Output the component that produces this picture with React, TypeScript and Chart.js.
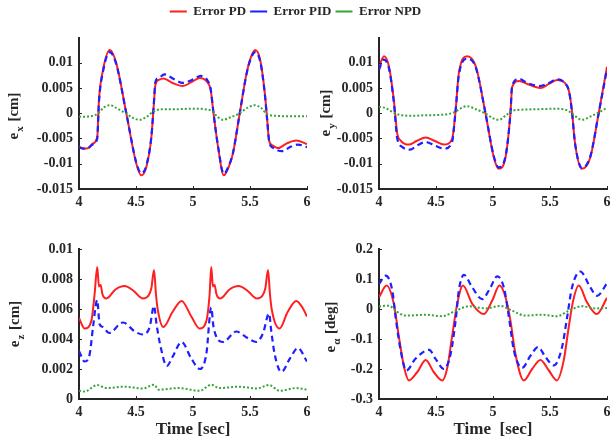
import React, { useEffect, useRef } from 'react';
import { Chart, registerables } from 'chart.js';
Chart.register(...registerables);

const FONT = "'Liberation Serif', 'Times New Roman', serif";
const INK = '#262626';
const RED = '#ff1f1f';
const BLUE = '#1f1fff';
const GREEN = '#37a437';

const seriesLabels = ['Error PD', 'Error PID', 'Error NPD'];

// ---- e_x ----
const exPdT = [4.00,4.04,4.08,4.12,4.16,4.175,4.21,4.27,4.327,4.415,4.503,4.547,4.59,4.635,4.655,4.67,4.70,4.74,4.82,4.91,4.99,5.06,5.12,5.155,5.18,5.22,5.27,5.31,5.35,5.41,5.47,5.51,5.546,5.59,5.63,5.65,5.667,5.70,5.746,5.82,5.906,6.00];
const exPdV = [-0.0066,-0.0070,-0.0069,-0.0060,-0.0047,0.0026,0.0085,0.0125,0.0099,0,-0.0100,-0.0123,-0.0107,-0.0047,0.0013,0.0056,0.0066,0.0069,0.0060,0.0054,0.0062,0.0070,0.0063,0.0046,0,-0.0067,-0.0123,-0.0108,-0.0080,0,0.0079,0.0112,0.0125,0.0105,0.0040,-0.0010,-0.0054,-0.0064,-0.0069,-0.0060,-0.0054,-0.0061];
const exPidT = [4.00,4.04,4.08,4.12,4.16,4.175,4.21,4.27,4.327,4.415,4.503,4.547,4.59,4.635,4.655,4.67,4.70,4.75,4.83,4.91,4.99,5.07,5.13,5.155,5.18,5.22,5.27,5.31,5.35,5.41,5.47,5.51,5.546,5.59,5.63,5.65,5.67,5.70,5.78,5.86,5.92,6.00];
const exPidV = [-0.0068,-0.0070,-0.0069,-0.0062,-0.0050,0.0022,0.0082,0.0121,0.0097,0,-0.0098,-0.0119,-0.0104,-0.0046,0.0014,0.0062,0.0070,0.0077,0.0068,0.0060,0.0066,0.0074,0.0064,0.0048,0,-0.0066,-0.0120,-0.0106,-0.0079,0,0.0078,0.0110,0.0121,0.0102,0.0038,-0.0012,-0.0058,-0.0068,-0.0075,-0.0066,-0.0062,-0.0067];
const exNpdT = [4.00,4.10,4.17,4.22,4.27,4.33,4.41,4.48,4.53,4.60,4.65,4.72,4.85,5.00,5.10,5.17,5.21,5.26,5.33,5.41,5.48,5.54,5.60,5.65,5.72,5.85,6.00];
const exNpdV = [-0.0007,-0.0006,0,0.0012,0.0016,0.0010,0,-0.0010,-0.0013,-0.0006,0.0003,0.0008,0.0008,0.0009,0.0008,0.0004,-0.0006,-0.0013,-0.0008,0,0.0011,0.0016,0.0010,-0.0002,-0.0005,-0.0006,-0.0006];

// ---- e_y ----
const eyPdT = [4.00,4.044,4.088,4.13,4.16,4.19,4.26,4.33,4.41,4.49,4.57,4.64,4.67,4.70,4.774,4.85,4.934,5.007,5.05,5.11,5.153,5.168,5.23,5.30,5.416,5.49,5.562,5.63,5.665,5.69,5.72,5.78,5.854,5.927,6.00];
const eyPdV = [0.0092,0.0113,0.0092,0.0026,-0.0040,-0.0054,-0.0062,-0.0055,-0.0048,-0.0055,-0.0062,-0.0052,0,0.0079,0.0113,0.0092,0,-0.0087,-0.0110,-0.0087,0,0.0052,0.0064,0.0058,0.0050,0.0058,0.0066,0.0060,0.0045,0.0010,-0.0060,-0.0110,-0.0087,0,0.0092];
const eyPidT = [4.00,4.04,4.088,4.13,4.16,4.20,4.27,4.34,4.41,4.49,4.57,4.64,4.67,4.70,4.774,4.85,4.934,5.007,5.05,5.11,5.153,5.168,5.23,5.30,5.416,5.49,5.562,5.63,5.665,5.69,5.72,5.78,5.854,5.927,6.00];
const eyPidV = [0.0086,0.0106,0.0088,0.0022,-0.0050,-0.0066,-0.0072,-0.0063,-0.0057,-0.0064,-0.0070,-0.0058,0,0.0075,0.0108,0.0090,0,-0.0085,-0.0107,-0.0085,0,0.0055,0.0068,0.0060,0.0054,0.0060,0.0067,0.0060,0.0045,0.0008,-0.0060,-0.0108,-0.0085,0,0.0088];
const eyNpdT = [4.00,4.06,4.13,4.20,4.30,4.41,4.55,4.65,4.72,4.77,4.85,4.93,5.00,5.05,5.12,5.17,5.25,5.40,5.55,5.65,5.70,5.78,5.85,5.93,6.00];
const eyNpdV = [0.0013,0.0010,0.0001,-0.0004,-0.0005,-0.0004,-0.0003,0.0001,0.0010,0.0014,0.0008,0,-0.0010,-0.0013,-0.0003,0.0005,0.0007,0.0008,0.0009,0.0006,-0.0002,-0.0013,-0.0007,0.0002,0.0011];

// ---- e_z ----
const ezPdT = [4.00,4.05,4.108,4.137,4.16,4.175,4.19,4.205,4.24,4.32,4.40,4.48,4.56,4.61,4.635,4.658,4.675,4.69,4.74,4.82,4.90,4.985,5.058,5.117,5.146,5.16,5.175,5.19,5.205,5.24,5.32,5.40,5.48,5.56,5.61,5.635,5.658,5.675,5.69,5.76,5.83,5.906,5.96,6.00];
const ezPdV = [0.0054,0.0047,0.0052,0.0070,0.0088,0.0075,0.0076,0.0070,0.0067,0.0073,0.00753,0.0072,0.0067,0.0069,0.0074,0.0086,0.0070,0.0060,0.0048,0.0058,0.00654,0.0055,0.0047,0.0052,0.0070,0.0088,0.0075,0.0076,0.0070,0.0067,0.0073,0.00753,0.0072,0.0067,0.0069,0.0074,0.0086,0.0070,0.0060,0.0047,0.0058,0.00654,0.0061,0.0055];
const ezPidT = [4.00,4.05,4.094,4.123,4.16,4.18,4.21,4.263,4.386,4.49,4.56,4.62,4.658,4.68,4.71,4.77,4.82,4.90,4.985,5.06,5.117,5.16,5.18,5.263,5.38,5.47,5.556,5.615,5.667,5.687,5.716,5.775,5.85,5.92,6.00];
const ezPidV = [0.0032,0.0025,0.0030,0.0048,0.0066,0.0050,0.0048,0.0044,0.0051,0.0045,0.0043,0.0048,0.0062,0.0050,0.0037,0.0022,0.0028,0.0038,0.0027,0.0020,0.0030,0.0061,0.0048,0.0038,0.0045,0.0041,0.0038,0.0044,0.0057,0.0045,0.0030,0.0018,0.0027,0.0034,0.0025];
const ezNpdT = [4.00,4.05,4.16,4.24,4.40,4.56,4.658,4.70,4.87,5.06,5.16,5.23,5.40,5.56,5.667,5.76,5.906,6.00];
const ezNpdV = [0.00055,0.0005,0.00093,0.00073,0.00082,0.0007,0.00095,0.00062,0.00073,0.00055,0.00095,0.00073,0.00082,0.0007,0.00093,0.00055,0.00073,0.00062];

// ---- e_alpha ----
const eaPdT = [4.00,4.067,4.13,4.175,4.22,4.263,4.336,4.41,4.48,4.555,4.60,4.64,4.686,4.736,4.818,4.92,4.993,5.057,5.11,5.153,5.197,5.27,5.343,5.416,5.49,5.56,5.62,5.664,5.70,5.752,5.825,5.91,6.00];
const eaPdV = [0.039,0.078,0.017,-0.094,-0.194,-0.238,-0.21,-0.17,-0.21,-0.238,-0.194,-0.094,0.017,0.078,0.017,-0.017,0.028,0.078,0.039,-0.039,-0.15,-0.238,-0.2,-0.17,-0.205,-0.238,-0.172,-0.061,0.022,0.078,0.022,-0.017,0.037];
const eaPidT = [4.00,4.058,4.117,4.146,4.19,4.24,4.32,4.44,4.496,4.57,4.628,4.672,4.70,4.745,4.818,4.905,4.978,5.036,5.095,5.14,5.183,5.256,5.33,5.396,5.46,5.533,5.606,5.65,5.693,5.766,5.854,5.912,6.00];
const eaPidV = [0.083,0.111,0.061,-0.028,-0.138,-0.205,-0.166,-0.136,-0.166,-0.2,-0.15,-0.039,0.061,0.114,0.072,0.033,0.072,0.109,0.072,-0.028,-0.138,-0.196,-0.155,-0.127,-0.16,-0.188,-0.127,-0.028,0.072,0.125,0.072,0.044,0.085];
const eaNpdT = [4.00,4.088,4.146,4.234,4.41,4.555,4.672,4.788,4.934,5.066,5.168,5.285,5.43,5.562,5.664,5.78,5.898,6.00];
const eaNpdV = [0.009,0.011,-0.006,-0.022,-0.019,-0.024,-0.006,0.009,0.002,0.010,-0.006,-0.022,-0.019,-0.024,-0.006,0.009,0.002,0.003];

const pts = (t: number[], v: number[]) => t.map((x, i) => ({ x, y: v[i] }));

const styles = [
  { borderColor: RED, borderWidth: 2, borderDash: [] as number[], order: 2 },
  { borderColor: BLUE, borderWidth: 2.2, borderDash: [6, 4], order: 1 },
  { borderColor: GREEN, borderWidth: 2, borderDash: [2, 2], order: 0 },
];

type Panel = {
  key: string;
  box: [number, number, number, number];
  area: [number, number, number, number];
  yMin: number; yMax: number; yStep: number;
  main: string; sub: string; unit: string;
  titlePos: [number, number];
  xTitle?: string;
  series: [number[], number[]][];
};

const panels: Panel[] = [
  { key: 'ex', box: [0, 23, 311, 197], area: [79, 38, 307, 189], yMin: -0.015, yMax: 0.0149, yStep: 0.005,
    main: 'e', sub: 'x', unit: '[cm]', titlePos: [18, 93],
    series: [[exPdT, exPdV], [exPidT, exPidV], [exNpdT, exNpdV]] },
  { key: 'ey', box: [311, 23, 300, 197], area: [379, 38, 607, 189], yMin: -0.015, yMax: 0.0149, yStep: 0.005,
    main: 'e', sub: 'y', unit: '[cm]', titlePos: [19, 90],
    series: [[eyPdT, eyPdV], [eyPidT, eyPidV], [eyNpdT, eyNpdV]] },
  { key: 'ez', box: [0, 234, 311, 207], area: [79, 249, 307, 399], yMin: 0, yMax: 0.01, yStep: 0.002,
    main: 'e', sub: 'z', unit: '[cm]', titlePos: [19, 90], xTitle: 'Time [sec]',
    series: [[ezPdT, ezPdV], [ezPidT, ezPidV], [ezNpdT, ezNpdV]] },
  { key: 'ea', box: [311, 234, 300, 207], area: [379, 249, 607, 399], yMin: -0.3, yMax: 0.2, yStep: 0.1,
    main: 'e', sub: 'α', unit: '[deg]', titlePos: [24, 93], xTitle: 'Time  [sec]',
    series: [[eaPdT, eaPdV], [eaPidT, eaPidV], [eaNpdT, eaNpdV]] },
];

const fmt = (v: number | string) => String(Math.round(Number(v) * 1e6) / 1e6);

const axisDecor = {
  id: 'axisDecor',
  afterDraw(chart: any, _args: any, opts: any) {
    const ctx = chart.ctx as CanvasRenderingContext2D;
    const { left, bottom } = chart.chartArea;
    const xs = chart.scales.x, ys = chart.scales.y;
    ctx.save();
    ctx.strokeStyle = INK;
    ctx.lineWidth = 1;
    xs.ticks.forEach((t: any) => {
      const px = Math.round(xs.getPixelForValue(t.value)) + 0.5;
      ctx.beginPath(); ctx.moveTo(px, bottom); ctx.lineTo(px, bottom - 3); ctx.stroke();
    });
    ys.ticks.forEach((t: any) => {
      const py = Math.round(ys.getPixelForValue(t.value)) + 0.5;
      ctx.beginPath(); ctx.moveTo(left, py); ctx.lineTo(left + 3, py); ctx.stroke();
    });
    const big = `bold 15px ${FONT}`;
    const small = `bold 11px ${FONT}`;
    ctx.translate(opts.x, opts.y);
    ctx.rotate(-Math.PI / 2);
    ctx.fillStyle = INK;
    ctx.textAlign = 'left';
    ctx.textBaseline = 'alphabetic';
    ctx.font = big;
    const wE = ctx.measureText(opts.main).width;
    const wU = ctx.measureText(' ' + opts.unit).width;
    ctx.font = small;
    const wS = ctx.measureText(opts.sub).width;
    let x = -(wE + wS + 2 + wU) / 2;
    ctx.font = big; ctx.fillText(opts.main, x, 0); x += wE + 1;
    ctx.font = small; ctx.fillText(opts.sub, x, 5); x += wS + 1;
    ctx.font = big; ctx.fillText(' ' + opts.unit, x, 0);
    ctx.restore();
  },
};

function PanelChart({ p }: { p: Panel }) {
  const ref = useRef<HTMLCanvasElement>(null);
  useEffect(() => {
    const [bx, by, bw, bh] = p.box;
    const [L, T, R, B] = p.area;
    const tickFont = { family: FONT, size: 14, weight: 'bold' as const };
    const chart = new Chart(ref.current!, {
      type: 'line',
      data: {
        datasets: p.series.map((s, i) => ({
          label: seriesLabels[i],
          data: pts(s[0], s[1]),
          ...styles[i],
          pointRadius: 0,
          fill: false,
          cubicInterpolationMode: 'monotone' as const,
        })),
      },
      options: {
        responsive: false,
        animation: false,
        devicePixelRatio: 1,
        layout: { padding: { left: 0, top: T - by, right: bx + bw - R, bottom: 0 } },
        plugins: {
          legend: { display: false },
          tooltip: { enabled: false },
          axisDecor: { x: p.titlePos[0], y: p.titlePos[1], main: p.main, sub: p.sub, unit: p.unit },
        } as any,
        scales: {
          x: {
            type: 'linear', min: 4, max: 6,
            afterFit: (s: any) => { s.height = by + bh - B; s.paddingLeft = 0; s.paddingRight = 0; },
            grid: { display: false, drawTicks: false },
            border: { display: true, color: INK, width: 2 },
            ticks: { stepSize: 0.5, font: tickFont, color: INK, padding: 5, maxRotation: 0, callback: fmt },
            title: p.xTitle
              ? { display: true, text: p.xTitle, color: INK, font: { family: FONT, size: 17, weight: 'bold' }, padding: { top: 0, bottom: 1 } }
              : { display: false },
          },
          y: {
            type: 'linear', min: p.yMin, max: p.yMax,
            afterFit: (s: any) => { s.width = L - bx; s.paddingTop = 0; s.paddingBottom = 0; },
            grid: { display: false, drawTicks: false },
            border: { display: true, color: INK, width: 2 },
            ticks: { stepSize: p.yStep, includeBounds: false, font: tickFont, color: INK, padding: 6, callback: fmt },
          },
        },
      } as any,
      plugins: [axisDecor],
    });
    return () => chart.destroy();
  }, [p]);
  const [bx, by, bw, bh] = p.box;
  return (
    <canvas ref={ref} width={bw} height={bh}
      style={{ position: 'absolute', left: bx, top: by, width: bw, height: bh }} />
  );
}

function LegendChart() {
  const ref = useRef<HTMLCanvasElement>(null);
  useEffect(() => {
    const chart = new Chart(ref.current!, {
      type: 'line',
      data: {
        datasets: seriesLabels.map((label, i) => ({ label, data: [], ...styles[i], pointStyle: 'line' })),
      },
      options: {
        responsive: false,
        animation: false,
        devicePixelRatio: 1,
        layout: { padding: { top: 1, left: 0, right: 0, bottom: 0 } },
        scales: { x: { display: false }, y: { display: false } },
        plugins: {
          tooltip: { enabled: false },
          legend: {
            display: true,
            position: 'top',
            labels: {
              usePointStyle: true,
              pointStyle: 'line',
              pointStyleWidth: 17,
              boxHeight: 13,
              padding: 4,
              color: INK,
              font: { family: FONT, size: 13, weight: 'bold' },
              sort: (a: any, b: any) => a.datasetIndex - b.datasetIndex,
            },
          },
        },
      } as any,
    });
    return () => chart.destroy();
  }, []);
  return (
    <canvas ref={ref} width={591} height={40}
      style={{ position: 'absolute', left: 0, top: 0, width: 591, height: 40 }} />
  );
}

export default function App() {
  return (
    <div style={{ position: 'absolute', left: 0, top: 0, width: 611, height: 441, background: '#fff', overflow: 'hidden' }}>
      {panels.map((p) => <PanelChart key={p.key} p={p} />)}
      <LegendChart />
    </div>
  );
}
